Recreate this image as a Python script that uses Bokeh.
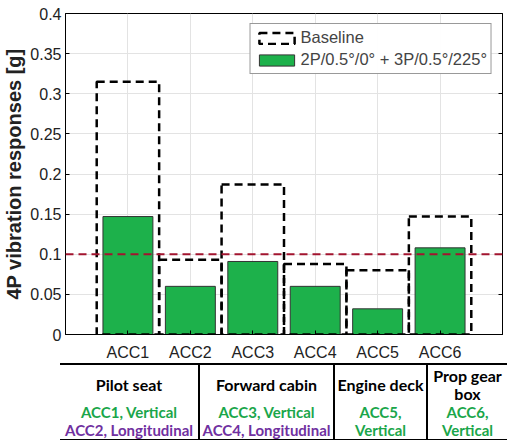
from bokeh.plotting import figure
from bokeh.models import (FactorRange, Range1d, Span, Legend, LegendItem, Div, FixedTicker,
                          ColumnDataSource, LinearAxis)
from bokeh.layouts import column
from bokeh.embed import file_html
from bokeh.resources import INLINE

# ---- data ----
sensors = ["ACC1", "ACC2", "ACC3", "ACC4", "ACC5", "ACC6"]
baseline = [0.315, 0.093, 0.187, 0.088, 0.080, 0.147]
optimized = [0.147, 0.060, 0.091, 0.060, 0.032, 0.108]
limit_value = 0.1
y_ticks = [0, 0.05, 0.1, 0.15, 0.2, 0.25, 0.3, 0.35, 0.4]
y_tick_labels = ["0", "0.05", "0.1", "0.15", "0.2", "0.25", "0.3", "0.35", "0.4"]
legend_labels = ["Baseline", "2P/0.5\u00b0/0\u00b0 + 3P/0.5\u00b0/225\u00b0"]
y_label = "4P vibration responses [g]"
locations = ["Pilot seat", "Forward cabin", "Engine deck", "Prop gear box"]
vertical_sensors = ["ACC1, Vertical", "ACC3, Vertical", "ACC5, Vertical", "ACC6, Vertical"]
longitudinal_sensors = ["ACC2, Longitudinal", "ACC4, Longitudinal", "", ""]

GREEN = "#1db14b"
TXT_GREEN = "#1aa64a"
PURPLE = "#7030a0"
FONT = "Liberation Sans"

src = ColumnDataSource(dict(x=sensors, base=baseline, opt=optimized))

p = figure(
    x_range=FactorRange(*sensors, range_padding=0.5, range_padding_units="absolute"),
    y_range=Range1d(0, 0.4),
    width=507, height=363,
    output_backend="svg", toolbar_location=None,
    min_border_left=60, min_border_top=13, min_border_right=5, min_border_bottom=28,
)
p.background_fill_color = "white"
p.outline_line_color = "black"
p.outline_line_width = 1

g_opt = p.vbar(x="x", top="opt", width=0.8, source=src, fill_color=GREEN,
               line_color="#333333", line_width=1)
g_base = p.vbar(x="x", top="base", width=1.0, source=src, fill_color=None,
                line_color="black", line_width=2.5, line_dash="8 5")

p.add_layout(Span(location=limit_value, dimension="width", line_color="#a2142f",
                  line_width=2, line_dash="8 5"))

p.yaxis.ticker = FixedTicker(ticks=y_ticks)
p.yaxis.major_label_overrides = {t: s for t, s in zip(y_ticks, y_tick_labels)}
for ax in (p.xaxis, p.yaxis):
    ax.major_label_text_font = FONT
    ax.major_label_text_font_size = "16px"
    ax.major_label_text_color = "#222222"
    ax.axis_line_color = "black"
    ax.major_tick_in = 4
    ax.major_tick_out = 0
    ax.minor_tick_line_color = None
p.xaxis.major_label_standoff = 9
p.yaxis.major_label_standoff = 4
p.yaxis.axis_label = y_label
p.yaxis.axis_label_text_font = FONT
p.yaxis.axis_label_text_font_style = "bold"
p.yaxis.axis_label_text_font_size = "20px"
p.yaxis.axis_label_text_color = "#222222"
p.yaxis.axis_label_standoff = 2

# box ticks on the right (tick marks only, labels blank)
right_ax = LinearAxis(ticker=FixedTicker(ticks=y_ticks),
                      major_label_overrides={t: "" for t in y_ticks},
                      major_label_standoff=0, major_tick_in=4, major_tick_out=0,
                      minor_tick_line_color=None, axis_line_color="black")
p.add_layout(right_ax, "right")

p.xgrid.grid_line_color = "#e3e3e3"
p.ygrid.grid_line_color = "#e3e3e3"

legend = Legend(items=[LegendItem(label=legend_labels[0], renderers=[g_base]),
                       LegendItem(label=legend_labels[1], renderers=[g_opt])],
                location="top_right")
legend.label_text_font = FONT
legend.label_text_font_size = "16.5px"
legend.label_height = 17
legend.glyph_width = 44
legend.glyph_height = 14
legend.spacing = 3
legend.padding = 4
legend.margin = 10
legend.label_standoff = 2
legend.border_line_color = "#333333"
legend.border_line_width = 1
p.add_layout(legend)

# ---- table below ----
widths = [139, 135, 93, 80]
cells = []
for i, (loc, v, l) in enumerate(zip(locations, vertical_sensors, longitudinal_sensors)):
    border_r = "border-right:2px solid black;" if i < len(locations) - 1 else ""
    body = f'<div style="color:{TXT_GREEN}">{v}</div>'
    if l:
        body += f'<div style="color:{PURPLE}">{l}</div>'
    cells.append(
        f'<td style="width:{widths[i]}px;{border_r}padding:2px 0 0 0;vertical-align:top;text-align:center;">'
        f'<div style="height:36px;display:flex;align-items:center;justify-content:center;color:black;font-size:16px;">{loc}</div>'
        f'{body}</td>'
    )
html = (
    '<table style="border-collapse:collapse;table-layout:fixed;margin-left:60px;'
    'border-top:2px solid black;border-bottom:2px solid black;'
    'font-family:Lato;font-weight:bold;font-size:15px;line-height:18px;width:447px;">'
    '<tr style="height:73px">' + "".join(cells) + '</tr></table>'
)
div = Div(text=html, width=507, height=77, margin=(0, 0, 0, 0))

layout = column(p, div, spacing=0)
open("out.html", "w").write(file_html(layout, INLINE))
